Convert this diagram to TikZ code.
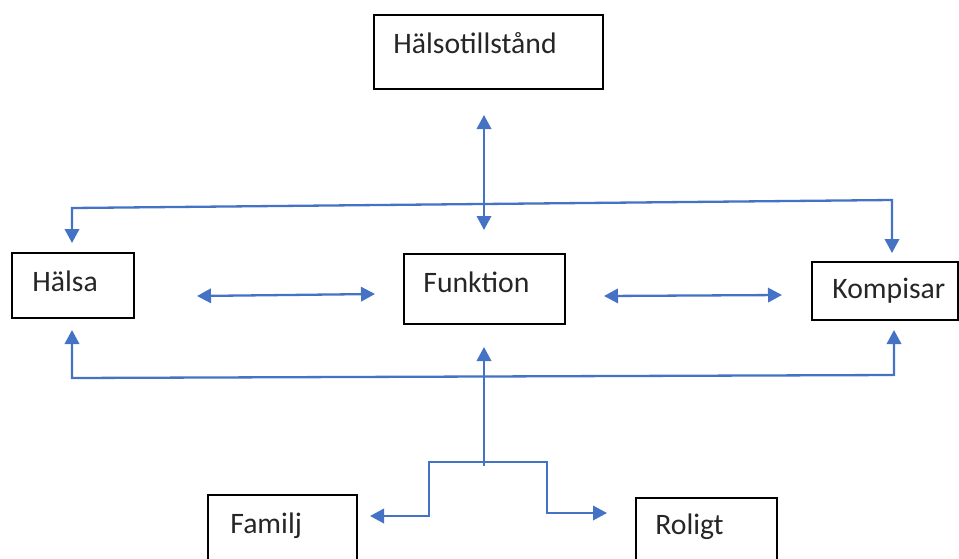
\documentclass[tikz,border=0pt]{standalone}
\usepackage{fontspec}
\setmainfont{Carlito}
\usetikzlibrary{arrows.meta}
\definecolor{connblue}{HTML}{4472C4}
\definecolor{boxtext}{HTML}{262626}
\tikzset{
  box/.style={draw=black, line width=0.9pt, rectangle, inner sep=0pt, fill=none},
  lbl/.style={anchor=base west, inner sep=0pt, text=boxtext, font=\fontsize{14.85}{18}\selectfont},
  conn/.style={draw=connblue, line width=1.15pt, line join=miter,
    arrows={Triangle[width=7.2pt,length=7pt]-Triangle[width=7.2pt,length=7pt]}},
  oneway/.style={draw=connblue, line width=1.15pt, -{Triangle[width=7.2pt,length=7pt]}}
}
\begin{document}
\begin{tikzpicture}[x=0.5pt,y=-0.5pt]
\useasboundingbox (0,0) rectangle (959,558);
\clip (0,0) rectangle (959,558);
% boxes
\node[box, minimum width=114.5pt, minimum height=37pt] (hst) at (488.5,52) {};
\node[box, minimum width=61pt, minimum height=32.5pt] (halsa) at (73,285.5) {};
\node[box, minimum width=80.5pt, minimum height=35pt] (funk) at (484.5,289) {};
\node[box, minimum width=73pt, minimum height=29pt] (komp) at (885,291) {};
\node[box, minimum width=74.5pt, minimum height=50pt] (familj) at (282.5,545) {};
\node[box, minimum width=70.5pt, minimum height=50pt] (roligt) at (706.5,548) {};
% labels
\node[lbl] (thst) at (393,53) {Hälsotillstånd};
\node[lbl] (thalsa) at (32,291) {Hälsa};
\node[lbl] (tfunk) at (423,292) {Funktion};
\node[lbl] (tkomp) at (832,298) {Kompisar};
\node[lbl] (tfam) at (230,533) {Familj};
\node[lbl] (trol) at (655,534) {Roligt};
% coordinates
\coordinate (hstdown) at (484,115);
\coordinate (funkup) at (484,230);
\coordinate (tl) at (72,208);
\coordinate (tr) at (892,200);
\coordinate (halsatop) at (72,243);
\coordinate (komptop) at (892,253);
\coordinate (bl) at (72,378);
\coordinate (br) at (894,375);
\coordinate (halsabot) at (72,330);
\coordinate (kompbot) at (894,330);
\coordinate (bm) at (484,466);
\coordinate (funkbot) at (484,347);
\coordinate (fork) at (484,462);
\coordinate (fl) at (429,462);
\coordinate (fr) at (547,462);
\coordinate (fld) at (429,516);
\coordinate (frd) at (547,513);
\coordinate (famr) at (370,516);
\coordinate (roll) at (607,513);
\coordinate (hfl) at (197,296);
\coordinate (hfr) at (375,294);
\coordinate (fkl) at (604,296);
\coordinate (fkr) at (782,295);
% connectors
\draw[conn] (hstdown) -- (funkup);
\draw[conn] (halsatop) -- (tl) -- (tr) -- (komptop);
\draw[conn] (halsabot) -- (bl) -- (br) -- (kompbot);
\draw[oneway] (bm) -- (funkbot);
\draw[conn] (famr) -- (fld) -- (fl) -- (fr) -- (frd) -- (roll);
\draw[conn] (hfl) -- (hfr);
\draw[conn] (fkl) -- (fkr);
\end{tikzpicture}
\end{document}
